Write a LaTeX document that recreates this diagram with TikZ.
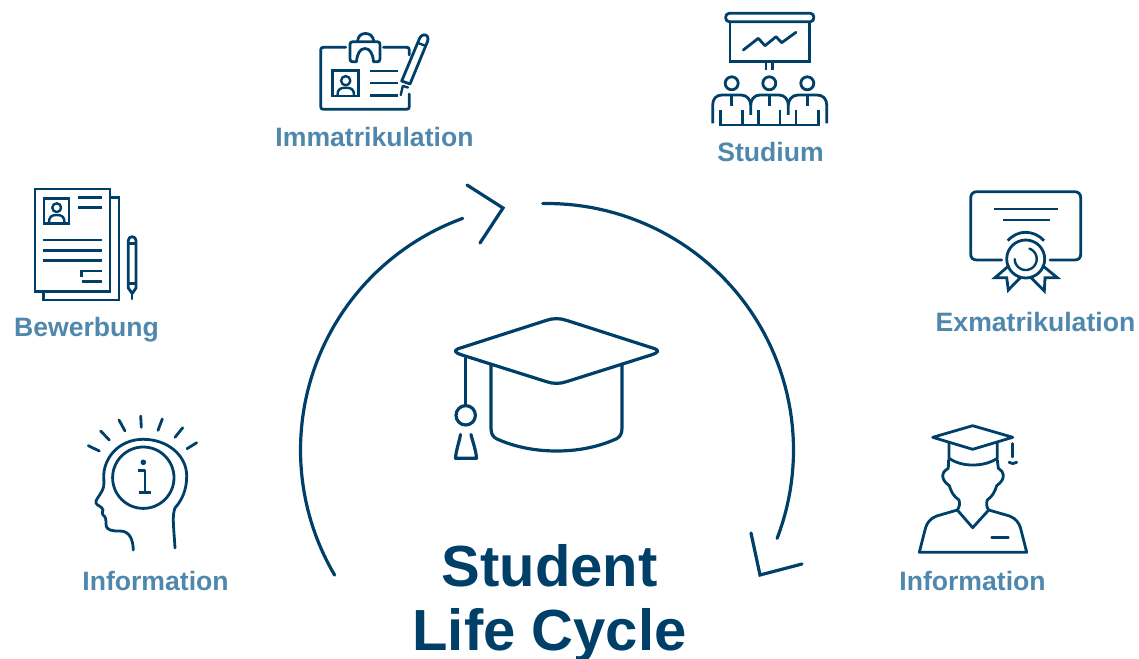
\documentclass[tikz,border=0pt]{standalone}
\usepackage{fontspec}
\setmainfont{Liberation Sans}
\definecolor{navy}{HTML}{004068}
\definecolor{lbl}{HTML}{4F87AD}
\tikzset{
  ln/.style={draw=navy,line width=2.8pt,line cap=round,line join=round},
  thin ln/.style={draw=navy,line width=2.4pt,line cap=round,line join=round},
  big/.style={draw=navy,line width=3.2pt,line cap=round,line join=miter},
  lab/.style={text=lbl,font=\fontsize{26.6}{30}\selectfont\bfseries,anchor=base,inner sep=0pt},
  title/.style={text=navy,font=\fontsize{58}{64}\selectfont\bfseries,anchor=base,inner sep=0pt}
}
\begin{document}
\begin{tikzpicture}[x=1pt,y=-1pt]
\useasboundingbox (0,0) rectangle (1139,658);
% labels
\node[lab] (immat) at (374.5,146) {Immatrikulation};
\node[lab] (stud) at (770.5,161) {Studium};
\node[lab] (exmat) at (1035.5,331) {Exmatrikulation};
\node[lab] (bew) at (86.5,336) {Bewerbung};
\node[lab] (info1) at (155.5,590) {Information};
\node[lab] (info2) at (972.5,590) {Information};
\node[title] (t1) at (549.5,586) {Student};
\node[title] (t2) at (549.5,650.5) {Life Cycle};
% cycle arrows
\draw[big] plot[domain=149.5:250,samples=60] ({547+246.5*cos(\x)},{450+246.5*sin(\x)});
\draw[big] plot[domain=269:381,samples=60] ({547+246.5*cos(\x)},{450+246.5*sin(\x)});
\draw[big] (467,185) -- (503,208) -- (480,243);
\draw[big] (751,533) -- (760,575) -- (802,564);
% central cap
\draw[ln,line width=3.2pt] (462,347.5) -- (546,320.5) .. controls (553,318) and (560,318) .. (567,320.5) -- (651,347.5)
  .. controls (660,350) and (660,352) .. (651,355) -- (567,381.5) .. controls (560,384) and (553,384) .. (546,381.5)
  -- (462,355) .. controls (453,352) and (453,350) .. (462,347.5) -- cycle;
\draw[ln,line width=3.2pt] (491,365) -- (491,428) .. controls (491,434) and (493,437) .. (497,439)
  .. controls (515,447) and (535,451) .. (556.7,451) .. controls (578,451) and (598,447) .. (616,439)
  .. controls (620,437) and (622,434) .. (622,428) -- (622,365);
\draw[ln,line width=3.2pt] (465.7,358) -- (465.7,405);
\draw[ln,line width=3.2pt] (465.7,415.3) circle[radius=9.7];
\draw[ln,line width=3.2pt] (460.5,434.5) .. controls (459,443) and (456,450) .. (455.5,458.3) -- (476.5,458.3) .. controls (476,450) and (473,443) .. (471,434.5);
% Immatrikulation icon
\draw[ln] (345.7,47.3) -- (323.5,47.3) .. controls (321.5,47.3) and (320.7,48) .. (320.7,50) -- (320.7,106.5) .. controls (320.7,108.5) and (321.5,109.3) .. (323.5,109.3) -- (406.5,109.3) .. controls (408.5,109.3) and (409.3,108.5) .. (409.3,106.5) -- (409.3,94);
\draw[ln] (383.5,47.3) -- (406.5,47.3) .. controls (408.5,47.3) and (409.3,48) .. (409.3,50) -- (409.3,55);
\draw[ln] (356.5,61.7) -- (352.5,61.7) .. controls (350.8,61.7) and (350,61) .. (350,59) -- (350,44.5) .. controls (350,42.5) and (351,41.7) .. (353,41.7) -- (377,41.7) .. controls (379,41.7) and (380,42.5) .. (380,44.5) -- (380,59) .. controls (380,61) and (379,61.7) .. (377.5,61.7) -- (373.5,61.7)
  .. controls (373,54) and (370,48.5) .. (365,48.5) .. controls (360,48.5) and (357,54) .. (356.5,61.7);
\draw[ln] (357.5,41.7) .. controls (358,36) and (361,33.5) .. (365.5,33.5) .. controls (370,33.5) and (373,36) .. (374,41.7);
\draw[ln,line cap=butt,line join=miter] (332.7,70.7) rectangle (358.3,96);
\draw[thin ln] (345.7,80.7) circle[radius=4.6];
\draw[thin ln] (337.5,95) .. controls (337.5,89.5) and (340,87.7) .. (345.7,87.7) .. controls (351.5,87.7) and (354,89.5) .. (354,95);
\draw[ln,line cap=butt] (370,71) -- (397.7,71) (370,83) -- (397.7,83) (370,95.3) -- (397.7,95.3);
\draw[ln] (401.7,81) -- (419.5,38.5) .. controls (421.5,34) and (426,34) .. (427.5,36.5) .. controls (428.3,38) and (428,40) .. (427.5,41.5) -- (410,84) -- cycle;
\draw[thin ln] (402.8,86) -- (408,87.5) (402.8,86) -- (400.7,95);
\draw[thin ln] (418,43) -- (425.8,46);
% Studium icon
\draw[ln] (729,13.3) -- (810.5,13.3) .. controls (815,13.3) and (815,21.7) .. (810.5,21.7) -- (729,21.7) .. controls (724.5,21.7) and (724.5,13.3) .. (729,13.3) -- cycle;
\draw[ln,line cap=butt,line join=miter] (730,21.7) -- (730,61.7) -- (809.3,61.7) -- (809.3,21.7);
\draw[ln] (743.3,50) -- (758.3,38.3) -- (765,45.7) -- (776,36.7) -- (781.7,42.7) -- (796,32.3);
\draw[ln,line cap=butt] (766,61.7) -- (766,70) (772.7,61.7) -- (772.7,70);
\foreach \cx in {731.7,769.3,807.3}{
  \draw[ln] (\cx,83.3) circle[radius=6.5];
  \draw[ln,line cap=butt] (\cx,95) -- (\cx,106);
}
\draw[ln,line cap=butt] (712.7,123.3) -- (712.7,105) .. controls (712.7,99) and (716,95) .. (722,95) -- (741,95) .. controls (747,95) and (750.7,100) .. (750.7,105) -- (750.7,115);
\draw[ln,line cap=butt] (750.7,105) .. controls (750.7,100) and (754,95) .. (760,95) -- (779,95) .. controls (785,95) and (788.3,100) .. (788.3,105) -- (788.3,115);
\draw[ln,line cap=butt] (788.3,105) .. controls (788.3,100) and (792,95) .. (798,95) -- (817,95) .. controls (823,95) and (826.7,99) .. (826.7,105) -- (826.7,123.3);
\draw[ln,line cap=butt,line join=miter] (720.7,110) -- (720.7,125) -- (818.3,125) -- (818.3,110);
\draw[ln,line cap=butt] (742.7,110) -- (742.7,125) (758.3,110) -- (758.3,125) (780,110) -- (780,125) (796,110) -- (796,125);
% Exmatrikulation icon
\draw[ln] (1001.7,260) -- (977,260) .. controls (973,260) and (970.7,258) .. (970.7,254) -- (970.7,198) .. controls (970.7,194) and (973,191.7) .. (977,191.7) -- (1074.5,191.7) .. controls (1078.5,191.7) and (1080.7,194) .. (1080.7,198) -- (1080.7,254) .. controls (1080.7,258) and (1078.5,260) .. (1074.5,260) -- (1050,260);
\draw[ln,line cap=butt] (994.3,209) -- (1058.3,209) (1002.7,220) -- (1050,220);
\draw[ln,line cap=butt] (1007.7,240.7) .. controls (1013,235) and (1019,232.3) .. (1025.5,232.3) .. controls (1032,232.3) and (1039,235) .. (1044,240.7);
\draw[ln] (1025.7,259) circle[radius=19];
\draw[thin ln] plot[domain=-70:180,samples=40] ({1025.7+11*cos(\x)},{259+11*sin(\x)});
\draw[ln,line join=miter] (1008.5,266) -- (995,277.7) -- (1006.7,277.7) -- (1008.3,290) -- (1020.7,277.3);
\draw[ln,line join=miter] (1043,266) -- (1057.3,277.7) -- (1045,277.7) -- (1044.3,291) -- (1030.7,277.3);
% Graduate icon
\draw[ln] (932.7,437.3) -- (972.7,425.7) -- (1012.7,437.3) -- (972.7,449.3) -- cycle;
\draw[ln,line cap=butt] (949,442) -- (949,458.3) .. controls (956,463) and (964,465) .. (972.7,465) .. controls (982,465) and (990,463) .. (997.3,458.3) -- (997.3,442);
\draw[ln] (1012.7,443.5) -- (1012.7,457);
\draw[ln] (1009,462.3) .. controls (1011,464) and (1014.5,464) .. (1016.7,462.3);
\draw[ln] (948.5,460) -- (948.3,468.3) .. controls (944,471) and (942.7,473) .. (942.7,475) .. controls (942.7,479) and (944,481.7) .. (949.3,485.7) .. controls (951,491) and (953,496) .. (959,500) .. controls (960,504) and (959.5,507) .. (957.3,510)
  -- (972.7,527.7) -- (988.7,510) .. controls (986.5,507) and (986,504) .. (987.3,500) .. controls (993,496) and (995,491) .. (996.7,485.7) .. controls (1002,481.7) and (1003.3,479) .. (1003.3,475) .. controls (1003.3,473) and (1002,471) .. (998.3,468.3) -- (997.3,460);
\draw[ln] (957.3,510) -- (936.7,516) .. controls (930,518.5) and (927,523) .. (925.5,528) -- (919.3,552.3) -- (1026.7,552.3) -- (1020.5,528) .. controls (1019,523) and (1016,518.5) .. (1009.5,516) -- (988.7,510);
\draw[ln] (991.7,537.7) -- (1008.3,537.7);
% Head icon
\draw[ln] (88.3,445.7) -- (99.3,451) (100.7,431) -- (109.3,440) (119,420) -- (125,431) (140.7,416) -- (141.3,427.3) (162.3,419) -- (158,430.3) (182.7,427.7) -- (175,437.3) (196.7,442.7) -- (187,448.7);
\draw[ln] (143.3,477.7) circle[radius=30.7];
\fill[navy] (143.3,462.3) circle[radius=2.8];
\draw[ln,line cap=butt] (138.3,470.7) -- (145,470.7) -- (145,492.7) (139,492.7) -- (151,492.7);
\draw[ln] (175,548) .. controls (174.5,538) and (173.3,528) .. (173.3,518.3) .. controls (173.3,512) and (175,508) .. (175,508)
  .. controls (182,500) and (186.7,490) .. (186.7,476) .. controls (186.7,455) and (167,439.3) .. (143.3,439.3)
  .. controls (125,439.3) and (110,450) .. (105,467) .. controls (102,477) and (106,484) .. (102,491) .. controls (99,497) and (95,500) .. (96,503) .. controls (97,506) and (102,506) .. (103,510)
  .. controls (103,512) and (101,513) .. (103,515) .. controls (106,517) and (106,520) .. (106,524) .. controls (106,531) and (113,531) .. (120,531) .. controls (130,531) and (133,540) .. (133.3,550);
% Bewerbung icon
\draw[ln,line cap=butt,line join=miter] (35,189) rectangle (110,291.7);
\draw[ln,line cap=butt,line join=miter] (110,197.3) -- (119,197.3) -- (119,300) -- (43.3,300) -- (43.3,291.7);
\draw[ln,line cap=butt,line join=miter] (44,198.3) rectangle (69,223.3);
\draw[thin ln] (56.7,207.7) circle[radius=4.4];
\draw[thin ln] (49,223) .. controls (49,217) and (51,215) .. (56.7,215) .. controls (62.5,215) and (64.5,217) .. (64.5,223);
\draw[ln,line cap=butt] (78.3,197.7) -- (101.7,197.7) (78.3,207.3) -- (101.7,207.3) (42.7,240) -- (101.7,240) (42.7,250.3) -- (101.7,250.3) (42.7,260.3) -- (101.7,260.3) (81.7,281.7) -- (101.7,281.7);
\draw[ln,line cap=butt,line join=miter] (101.7,271) -- (81.7,271) -- (81.7,277);
\draw[ln] (128.3,240.5) .. controls (128.3,235.5) and (136,235.5) .. (136,240.5) -- (136,288) -- (132.2,293.5) -- (128.3,288) -- cycle;
\draw[thin ln] (128.3,243.5) -- (136,243.5) (128.3,283.5) -- (136,283.5) (132.2,293.5) -- (132.2,299);
\end{tikzpicture}
\end{document}
